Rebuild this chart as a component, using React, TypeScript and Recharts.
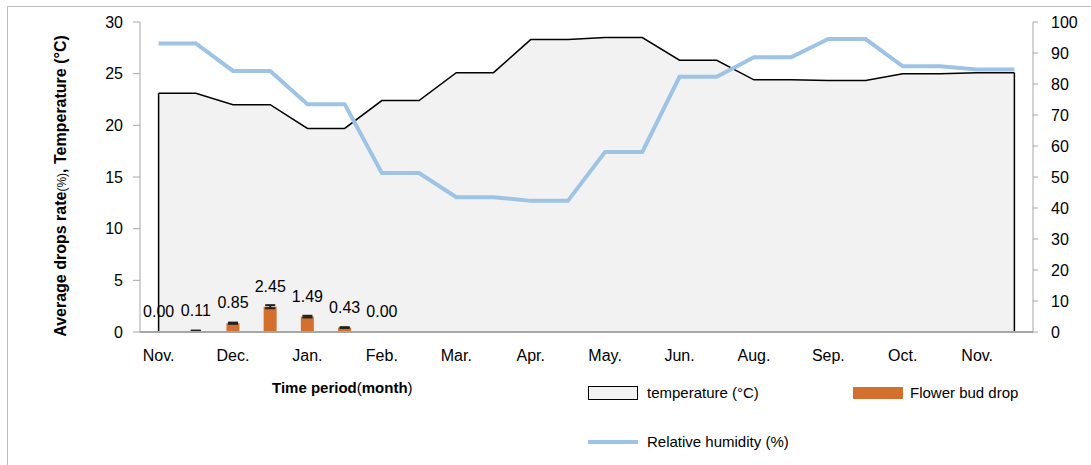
import {
  ComposedChart,
  Area,
  Line,
  Bar,
  ErrorBar,
  LabelList,
  XAxis,
  YAxis,
  ReferenceLine,
} from "recharts";

// half-month observation points, Nov. to Nov.
const periods = [
  "Nov-a", "Nov-b", "Dec-a", "Dec-b", "Jan-a", "Jan-b", "Feb-a", "Feb-b",
  "Mar-a", "Mar-b", "Apr-a", "Apr-b", "May-a", "May-b", "Jun-a", "Jun-b",
  "Aug-a", "Aug-b", "Sep-a", "Sep-b", "Oct-a", "Oct-b", "Nov2-a", "Nov2-b",
];
const monthTicks = [
  "Nov.", "Dec.", "Jan.", "Feb.", "Mar.", "Apr.",
  "May.", "Jun.", "Aug.", "Sep.", "Oct.", "Nov.",
];

const temperature = [
  23.1, 23.1, 22.0, 22.0, 19.7, 19.7, 22.4, 22.4, 25.1, 25.1, 28.3, 28.3,
  28.5, 28.5, 26.3, 26.3, 24.4, 24.4, 24.35, 24.35, 25.0, 25.0, 25.1, 25.1,
];
const humidity = [
  93.1, 93.1, 84.2, 84.2, 73.5, 73.5, 51.3, 51.3, 43.5, 43.5, 42.3, 42.3,
  58.1, 58.1, 82.3, 82.3, 88.6, 88.6, 94.5, 94.5, 85.7, 85.7, 84.7, 84.7,
];
const budDrop = [
  0, 0.11, 0.85, 2.45, 1.49, 0.43, 0, 0, 0, 0, 0, 0,
  0, 0, 0, 0, 0, 0, 0, 0, 0, 0, 0, 0,
];
const budDropErr = [
  0, 0.03, 0.06, 0.15, 0.08, 0.04, 0, 0, 0, 0, 0, 0,
  0, 0, 0, 0, 0, 0, 0, 0, 0, 0, 0, 0,
];
const budDropLabels = ["0.00", "0.11", "0.85", "2.45", "1.49", "0.43", "0.00"];

const leftTicks = [0, 5, 10, 15, 20, 25, 30];
const rightTicks = [0, 10, 20, 30, 40, 50, 60, 70, 80, 90, 100];

const data = periods.map((p, i) => ({
  period: p,
  temperature: temperature[i],
  humidity: humidity[i],
  drop: budDrop[i],
  dropErr: budDropErr[i],
  dropLabel: i < budDropLabels.length ? budDropLabels[i] : null,
}));

const FONT = "'Liberation Sans', Arial, sans-serif";
const AXIS_GRAY = "#a6a6a6";

const DropLabel = (props: any) => {
  const { x, y, value } = props;
  if (value == null) return null;
  return (
    <text
      x={x}
      y={y - 15}
      textAnchor="middle"
      fontSize={16}
      fontFamily={FONT}
      fill="#000"
    >
      {value}
    </text>
  );
};

const YTitle = () => (
  <text
    transform="translate(66,186) rotate(-90)"
    textAnchor="middle"
    fontFamily={FONT}
    fontSize={16}
    fontWeight="bold"
    fill="#000"
  >
    Average drops rate
    <tspan fontSize={12} fontWeight="normal">(%)</tspan>
    , Temperature (°C)
  </text>
);

export default function App() {
  return (
    <div
      style={{
        position: "absolute",
        left: 0,
        top: 0,
        width: 1091,
        height: 465,
        overflow: "hidden",
        background: "#fff",
        fontFamily: FONT,
      }}
    >
      <div
        style={{
          position: "absolute",
          left: 7,
          top: 6,
          width: 1200,
          height: 600,
          borderTop: "1px solid #bfbfbf",
          borderLeft: "1px solid #bfbfbf",
        }}
      />
      <ComposedChart
        width={1091}
        height={465}
        data={data}
        margin={{ top: 22, right: 0, bottom: 103, left: 80 }}
        style={{ position: "absolute", left: 0, top: 0 }}
      >
        <XAxis
          dataKey="period"
          interval={0}
          tickLine={false}
          axisLine={{ stroke: AXIS_GRAY, strokeWidth: 2 }}
          tickMargin={12}
          height={30}
          tick={{ fontSize: 16, fill: "#000", fontFamily: FONT }}
          tickFormatter={(_v: string, i: number) =>
            i % 2 === 0 ? monthTicks[i / 2] : ""
          }
        />
        <YAxis
          yAxisId="left"
          domain={[0, 30]}
          ticks={leftTicks}
          width={60}
          tickSize={7}
          tickMargin={10}
          axisLine={{ stroke: AXIS_GRAY }}
          tickLine={{ stroke: AXIS_GRAY }}
          tick={{ fontSize: 16, fill: "#000", fontFamily: FONT }}
        />
        <YAxis
          yAxisId="right"
          orientation="right"
          domain={[0, 100]}
          ticks={rightTicks}
          width={58}
          tickSize={5}
          tickMargin={13}
          axisLine={{ stroke: AXIS_GRAY }}
          tickLine={{ stroke: AXIS_GRAY }}
          tick={{ fontSize: 16, fill: "#000", fontFamily: FONT }}
        />
        <Area
          yAxisId="left"
          dataKey="temperature"
          type="linear"
          fill="#f2f2f2"
          fillOpacity={1}
          stroke="#000"
          strokeWidth={1.5}
          dot={false}
          activeDot={false}
          isAnimationActive={false}
        />
        <ReferenceLine
          yAxisId="left"
          segment={[
            { x: periods[0], y: 0 },
            { x: periods[0], y: temperature[0] },
          ]}
          stroke="#000"
          strokeWidth={1.5}
        />
        <ReferenceLine
          yAxisId="left"
          segment={[
            { x: periods[periods.length - 1], y: 0 },
            { x: periods[periods.length - 1], y: temperature[temperature.length - 1] },
          ]}
          stroke="#000"
          strokeWidth={1.5}
        />
        <Line
          yAxisId="right"
          dataKey="humidity"
          type="linear"
          stroke="#9dc3e6"
          strokeWidth={4}
          dot={false}
          activeDot={false}
          isAnimationActive={false}
        />
        <Bar
          yAxisId="left"
          dataKey="drop"
          fill="#d3702d"
          barSize={13}
          isAnimationActive={false}
        />
        {/* invisible carrier for the bar error caps and value labels, so zero bars get them too */}
        <Line
          yAxisId="left"
          dataKey="drop"
          type="linear"
          stroke="none"
          dot={false}
          activeDot={false}
          legendType="none"
          isAnimationActive={false}
        >
          <ErrorBar
            dataKey="dropErr"
            direction="y"
            width={5}
            stroke="#222"
            strokeWidth={2}
          />
          <LabelList dataKey="dropLabel" content={DropLabel} />
        </Line>
        <YTitle />
      </ComposedChart>

      <div
        style={{
          position: "absolute",
          left: 272,
          top: 379,
          fontSize: 15,
          color: "#000",
          whiteSpace: "nowrap",
        }}
      >
        <b>Time period</b>(<b>month</b>)
      </div>

      {/* legend */}
      <div style={{ position: "absolute", left: 588, top: 386, width: 48, height: 12, background: "#f2f2f2", border: "1.5px solid #000" }} />
      <div style={{ position: "absolute", left: 647, top: 384, fontSize: 15, color: "#000", whiteSpace: "nowrap" }}>
        temperature (°C)
      </div>
      <div style={{ position: "absolute", left: 853, top: 387, width: 50, height: 12, background: "#d3702d" }} />
      <div style={{ position: "absolute", left: 910, top: 384, fontSize: 15, color: "#000", whiteSpace: "nowrap" }}>
        Flower bud drop
      </div>
      <div style={{ position: "absolute", left: 588, top: 440, width: 50, height: 4, background: "#9dc3e6" }} />
      <div style={{ position: "absolute", left: 647, top: 433, fontSize: 15, color: "#000", whiteSpace: "nowrap" }}>
        Relative humidity (%)
      </div>
    </div>
  );
}
